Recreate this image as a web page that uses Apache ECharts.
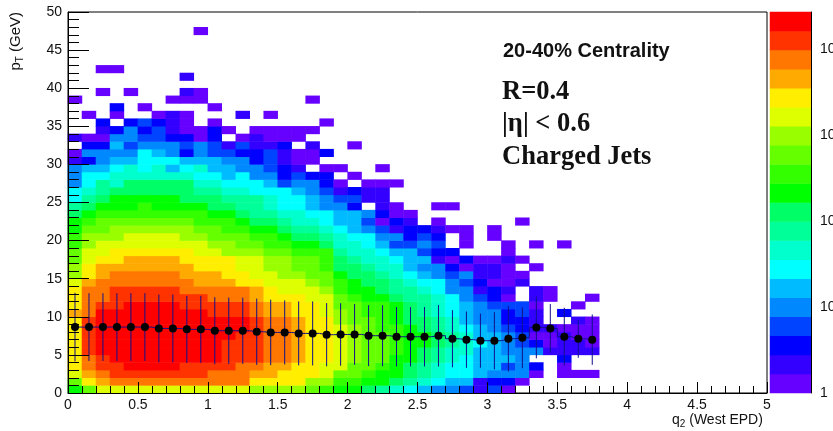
<!DOCTYPE html>
<html>
<head>
<meta charset="utf-8">
<style>html,body{margin:0;padding:0;background:#fff}#c{width:833px;height:431px}</style>
<script src="https://cdn.jsdelivr.net/npm/echarts@6/dist/echarts.min.js"></script>
</head>
<body>
<div id="c"></div>
<script>
// Colour band (1..20, 0 = empty) of each 0.1 x 1 GeV cell, rows from pT = 0 upward
const bandRows = [
[11,13,15,15,15,15,15,15,15,15,15,15,15,14,14,14,14,13,12,11,11,10,9,8,7,6,5,5,4,2,4,1],
[13,16,17,18,18,18,18,18,18,18,18,18,18,16,16,16,16,14,14,12,12,11,11,10,9,8,7,6,6,2,3,3,1],
[15,17,18,19,19,19,19,19,19,19,18,18,18,17,17,16,16,16,15,13,13,12,11,11,10,9,8,7,7,6,5,5,5,1,0,1,1,1],
[16,18,19,19,20,20,20,20,19,19,19,19,18,18,17,17,16,16,15,15,13,13,12,11,10,9,8,7,7,6,6,4,5,3,0,1],
[16,18,19,20,20,20,20,20,20,20,20,19,19,19,18,18,17,16,16,15,14,13,13,11,11,10,9,8,7,6,6,6,5,0,0,3],
[16,19,20,20,20,20,20,20,20,20,20,19,19,19,18,18,17,16,16,15,14,13,13,12,11,10,9,8,8,6,6,5,5,5,2,2,2,2],
[16,19,20,20,20,20,20,20,20,20,20,19,19,19,18,18,17,16,16,15,14,13,13,12,11,11,10,9,8,7,6,5,4,3,1,2,2,1],
[16,19,20,20,20,20,20,20,20,20,20,20,19,19,18,18,17,16,16,15,14,13,13,12,11,11,10,9,8,6,6,5,4,1,1,2,1,1],
[16,19,20,20,20,20,20,20,20,20,20,20,20,19,18,18,17,16,16,15,14,13,12,12,11,10,9,8,7,6,5,4,3,2,2,1,1,1],
[16,19,20,20,20,20,20,20,20,20,20,20,20,19,18,18,17,16,16,14,13,13,12,11,10,10,9,8,6,5,5,3,3,2,0,0,2,1],
[17,18,20,20,20,20,20,20,20,20,19,19,19,18,17,17,16,16,15,14,13,12,12,11,10,9,8,7,6,5,5,3,4,2,0,3],
[16,18,19,19,20,20,20,20,19,19,19,19,19,18,17,17,16,16,15,13,13,12,12,11,10,9,8,7,6,5,4,4,4,1,0,0,1],
[16,18,18,19,19,19,19,19,19,19,18,18,18,17,16,16,16,15,15,13,12,11,11,10,9,9,8,7,5,4,3,1,0,2,1,0,0,1],
[16,18,18,19,19,19,19,19,18,18,18,18,18,17,16,15,15,15,14,12,11,11,10,9,9,8,7,5,5,2,3,2,0,2,1],
[15,17,18,18,18,18,18,18,18,17,17,17,16,16,15,15,15,14,13,12,11,10,10,9,8,7,7,5,4,3,1,1,2],
[14,16,17,18,18,18,18,18,17,17,17,16,16,15,15,14,14,13,13,11,10,10,9,8,7,6,5,4,5,2,2,1,1],
[14,16,17,17,17,17,17,17,17,16,16,16,15,15,14,14,13,13,12,10,10,9,8,8,6,5,5,3,1,2,2,1,0,1],
[13,15,16,16,17,17,17,17,16,16,16,16,15,15,14,14,13,13,12,10,9,8,8,7,6,6,2,1,3,1,1,2,1],
[13,15,15,16,16,16,16,16,16,15,15,14,14,14,13,13,12,12,12,9,8,8,7,6,6,4,3,3,0,0,0,1],
[12,14,15,15,15,15,15,15,15,15,14,14,13,13,12,12,11,11,10,8,8,7,6,4,4,5,4,0,1,0,0,1,0,1,0,1],
[12,14,14,14,15,15,15,15,14,14,13,13,13,12,12,11,10,10,9,8,7,7,5,5,3,4,3,0,1,0,1],
[11,13,13,14,14,14,14,14,14,13,13,12,12,11,11,10,9,9,8,7,6,5,4,2,3,3,2,1,1,0,1],
[11,12,13,13,13,13,13,13,13,12,12,12,11,10,10,9,8,8,7,6,6,4,1,3,2,0,1,0,0,0,0,0,1],
[10,11,12,12,12,12,12,12,12,12,11,11,10,9,9,8,8,7,7,6,6,5,3,1,1],
[9,10,11,11,11,12,11,11,11,11,10,10,9,9,8,7,7,6,5,5,3,0,2,1,0,0,1,1],
[7,9,10,11,11,11,11,11,10,10,10,9,9,9,8,7,7,6,5,4,4,2,2],
[7,8,9,10,10,10,10,10,10,9,9,8,8,7,7,7,6,5,4,2,3,2,2],
[5,7,9,8,10,10,10,10,10,8,8,7,7,7,6,4,5,5,3,1,0,1,1,1],
[5,7,7,8,8,8,8,8,8,7,7,6,7,5,5,3,4,3,3,0,1],
[5,6,6,7,8,7,8,6,7,8,6,6,5,5,4,3,2,0,1,1,0,0,1],
[2,3,5,6,6,7,7,7,6,6,6,5,5,3,4,2,1,1],
[1,5,5,5,5,7,6,5,3,5,4,4,3,3,4,2,1,1,3],
[0,3,3,6,4,5,5,5,4,5,4,2,4,2,2,3,0,2,0,0,1],
[2,1,1,5,5,4,4,3,3,1,3,0,1,2,1,1,1],
[0,0,2,3,5,3,4,2,1,1,3,1,0,1,1,1,1,1],
[0,0,3,0,3,4,3,2,1,0,1,0,0,0,0,0,0,0,1],
[0,1,0,1,0,0,1,2,1,0,0,0,2,0,1],
[0,0,0,3,0,1,0,0,0,0,1],
[1,0,0,0,0,0,0,1,1,1,0,0,0,0,0,0,0,1],
[0,0,1,0,1,0,0,0,2,1],
[],
[0,0,0,0,0,0,0,0,2],
[0,0,1,1],
[],[],[],[],
[0,0,0,0,0,0,0,0,0,1]
];
const bandColors = ['#6600ff','#3300ff','#0000ff','#0044ff','#0088ff','#00bbff','#00ffff','#00ffcc','#00ff99','#00ff66',
 '#00ff00','#33ff00','#66ff00','#99ff00','#ddff00','#ffee00','#ffaa00','#ff7700','#ff3300','#ff0000'];
// Profile: mean pT and its spread per q2 bin
const profileMean = [8.65,8.65,8.65,8.65,8.65,8.65,8.47,8.47,8.35,8.35,8.17,8.17,8.17,8.04,7.95,7.95,7.82,7.82,7.65,7.68,7.69,7.52,7.52,7.38,7.38,7.38,7.52,7.12,7.0,6.86,6.86,7.12,7.25,8.6,8.47,7.38,7.12,7.0];
const profileErr = [4.5,4.45,4.45,4.45,4.45,4.45,4.45,4.45,4.4,4.4,4.4,4.35,4.35,4.35,4.3,4.2,4.2,4.2,4.15,4.1,4.0,4.0,4.0,3.9,3.9,3.9,4.05,3.75,3.7,3.55,3.75,4.3,4.0,4.05,3.2,3.8,2.5,3.3];
const xTickLabels = ['0','0.5','1','1.5','2','2.5','3','3.5','4','4.5','5'];
const barDecades = [0,1,2,3,4];
const barLabels = ['1','10','10','10','10'];
const barMaxLog = 4.43;
const mono = 'Liberation Sans, Arial, sans-serif';

const xBins = Array.from({length:50},(_, i)=>String(i));
const yBins = Array.from({length:50},(_, i)=>String(i));
const cells = [];
bandRows.forEach((row,g)=>row.forEach((b,c)=>{ if(b>0) cells.push([c,g,b]); }));
const profile = profileMean.map((m,i)=>[i/10+0.05,m]);
const errs = profileMean.map((m,i)=>[i/10+0.05,m-profileErr[i],m+profileErr[i]]);
const minorLogs = [];
barDecades.forEach(k=>{ for(let m=2;m<10;m++){ const v=k+Math.log10(m); if(v<barMaxLog) minorLogs.push(v);} });
const barCells = bandColors.map((_,i)=>[0,i,i+1]);

const axisCommon = {axisLine:{show:true,lineStyle:{color:'#000',width:1}},z:5};
const label = {color:'#111',fontFamily:mono,fontSize:14};

const chart = echarts.init(document.getElementById('c'),null,{renderer:'canvas'});
chart.setOption({
 animation:false,
 backgroundColor:'#fff',
 grid:[
  {left:68,top:12,width:699,height:381,show:true,borderColor:'#000',borderWidth:1,backgroundColor:'#fff',outerBoundsMode:'none'},
  {left:770,top:12,width:41,height:381,outerBoundsMode:'none'}
 ],
 xAxis:[
  Object.assign({},axisCommon,{type:'value',gridIndex:0,min:0,max:5,interval:0.5,position:'bottom',splitLine:{show:false},
   axisTick:{inside:true,length:11,lineStyle:{color:'#000'}},
   minorTick:{show:true,splitNumber:5,length:7,lineStyle:{color:'#000'}},
   axisLabel:Object.assign({},label,{margin:5,hideOverlap:false,showMinLabel:true,showMaxLabel:true,formatter:(v)=>xTickLabels[Math.round(v*2)]}),
   name:'q{s|2} (West EPD)',nameLocation:'end',nameGap:-95,
   nameTextStyle:{color:'#111',fontFamily:mono,fontSize:14,align:'left',verticalAlign:'top',padding:[18,0,0,0],rich:{s:{fontSize:10,padding:[8,0,0,0],fontFamily:mono,color:'#111'}}}
  }),
  {type:'category',gridIndex:0,data:xBins,position:'top',show:false},
  {type:'category',gridIndex:1,data:['bar'],show:false}
 ],
 yAxis:[
  Object.assign({},axisCommon,{type:'value',gridIndex:0,min:0,max:50,interval:5,position:'left',splitLine:{show:false},
   axisTick:{inside:true,length:21,lineStyle:{color:'#000'}},
   minorTick:{show:true,splitNumber:5,length:11,lineStyle:{color:'#000'}},
   axisLabel:Object.assign({},label,{margin:6}),
   name:'p{s|T} (GeV)',nameLocation:'end',nameRotate:90,nameGap:0,
   nameTextStyle:{color:'#111',fontFamily:mono,fontSize:15,align:'right',verticalAlign:'bottom',padding:[0,0,43,0],rich:{s:{fontSize:10,padding:[8,0,0,0],fontFamily:mono,color:'#111'}}}
  }),
  {type:'category',gridIndex:0,data:yBins,position:'right',show:false},
  {type:'category',gridIndex:1,data:bandColors.map((_,i)=>String(i+1)),show:false},
  {type:'value',gridIndex:1,min:0,max:barMaxLog,position:'right',z:5,splitLine:{show:false},
   axisLine:{show:true,lineStyle:{color:'#000',width:1}},
   axisTick:{inside:true,length:21,customValues:barDecades,lineStyle:{color:'#000'}},
   axisLabel:Object.assign({},label,{margin:9,customValues:barDecades,showMinLabel:true,showMaxLabel:true,formatter:(v)=>barLabels[Math.round(v)]})},
  {type:'value',gridIndex:1,min:0,max:barMaxLog,position:'right',z:5,splitLine:{show:false},
   axisLine:{show:false},axisLabel:{show:false},
   axisTick:{inside:true,length:11,customValues:minorLogs,lineStyle:{color:'#000'}}}
 ],
 visualMap:{show:false,type:'piecewise',seriesIndex:[0,1],dimension:2,
  pieces:bandColors.map((c,i)=>({value:i+1,color:c}))},
 series:[
  {type:'heatmap',xAxisIndex:1,yAxisIndex:1,data:cells,itemStyle:{borderWidth:0},z:2,progressive:0},
  {type:'heatmap',xAxisIndex:2,yAxisIndex:2,data:barCells,z:2},
  {type:'custom',xAxisIndex:0,yAxisIndex:0,z:3,data:errs,
   renderItem:(p,api)=>{
    const a=api.coord([api.value(0),api.value(1)]),b=api.coord([api.value(0),api.value(2)]);
    return {type:'line',shape:{x1:a[0],y1:a[1],x2:b[0],y2:b[1]},style:{stroke:'#10108a',lineWidth:1}};
   },encode:{x:0,y:[1,2]}},
  {type:'line',xAxisIndex:0,yAxisIndex:0,z:4,data:profile,step:'middle',
   lineStyle:{color:'#10108a',width:1},symbol:'circle',symbolSize:8,itemStyle:{color:'#000'},showSymbol:true}
 ],
 graphic:[
  {type:'text',x:503,y:51,style:{text:'20-40% Centrality',font:'bold 20px '+mono,fill:'#111',textVerticalAlign:'middle'}},
  {type:'text',x:502,y:92,style:{text:'R=0.4',font:'bold 26.5px Liberation Serif, serif',fill:'#111',textVerticalAlign:'middle'}},
  {type:'text',x:502,y:124,style:{text:'|η| < 0.6',font:'bold 26.5px Liberation Serif, serif',fill:'#111',textVerticalAlign:'middle'}},
  {type:'text',x:502,y:157,style:{text:'Charged Jets',font:'bold 26.5px Liberation Serif, serif',fill:'#111',textVerticalAlign:'middle'}}
 ]
});
</script>
</body>
</html>
